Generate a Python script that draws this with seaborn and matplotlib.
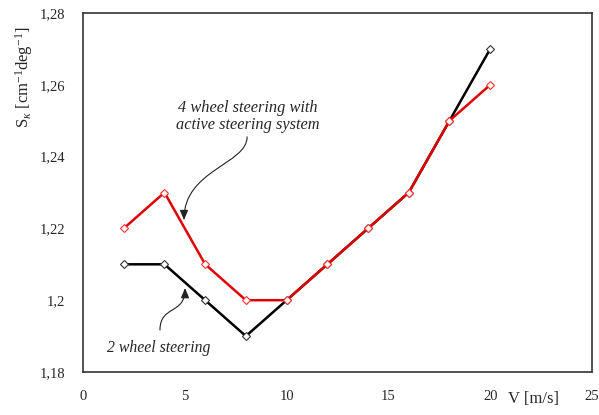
import matplotlib
matplotlib.use("Agg")
import matplotlib.pyplot as plt
from matplotlib.patches import FancyArrowPatch
from matplotlib.path import Path
import seaborn as sns
import pandas as pd

# Measured steering sensitivity vs. speed
speed = [2, 4, 6, 8, 10, 12, 14, 16, 18, 20]
sk_2ws = [1.21, 1.21, 1.20, 1.19, 1.20, 1.21, 1.22, 1.23, 1.25, 1.27]
sk_4ws = [1.22, 1.23, 1.21, 1.20, 1.20, 1.21, 1.22, 1.23, 1.25, 1.26]

x_ticks = [0, 5, 10, 15, 20, 25]
y_ticks = [1.18, 1.20, 1.22, 1.24, 1.26, 1.28]
y_tick_labels = ["1,18", "1,2", "1,22", "1,24", "1,26", "1,28"]

sns.set_style("white")
plt.rcParams["font.family"] = ["Liberation Serif", "DejaVu Serif"]
plt.rcParams["mathtext.fontset"] = "custom"
plt.rcParams["mathtext.rm"] = "Liberation Serif"
plt.rcParams["mathtext.it"] = "Liberation Serif:italic"

df2 = pd.DataFrame({"V": speed, "Sk": sk_2ws})
df4 = pd.DataFrame({"V": speed, "Sk": sk_4ws})

fig = plt.figure(figsize=(5.99, 4.15), dpi=100)
ax = fig.add_axes([0.1386, 0.1036, 0.8497, 0.865])

marker_kw = dict(marker="D", markersize=4.5, markerfacecolor="white",
                 markeredgewidth=0.8, linewidth=1.8)
sns.lineplot(data=df2, x="V", y="Sk", ax=ax, color="black",
             markeredgecolor="#333333", **marker_kw)
sns.lineplot(data=df4, x="V", y="Sk", ax=ax, color="#e00000",
             markeredgecolor="#ff3030", **marker_kw)

ax.set_xlim(0, 25)
ax.set_ylim(1.18, 1.28)
ax.set_xticks(x_ticks)
ax.set_xticklabels([str(t) for t in x_ticks])
ax.set_yticks(y_ticks)
ax.set_yticklabels(y_tick_labels)
ax.tick_params(axis="both", direction="out", length=4, width=0.8,
               color="#999999", labelsize=10.5)
ax.tick_params(axis="y", pad=9)
ax.tick_params(axis="x", pad=9)
for sp in ax.spines.values():
    sp.set_color("#333333")
    sp.set_linewidth(1.2)

ax.set_xlabel("")
ax.set_ylabel(r"S$_{\kappa}$ [cm$^{\mathrm{-1}}$deg$^{\mathrm{-1}}$]",
              fontsize=12)
ax.yaxis.set_label_coords(-0.095, 0.822)
fig.text(0.89, 0.02, "V [m/s]", fontsize=12, ha="center", va="bottom")

# Labels with curved pointers
ax.text(8.10, 1.2512, "4 wheel steering with\nactive steering system",
        fontsize=11.8, style="italic", ha="center", va="center",
        linespacing=1.15)
ax.text(3.71, 1.1867, "2 wheel steering", fontsize=11.3, style="italic",
        ha="center", va="center")

def s_arrow(p0, c1, c2, p1):
    path = Path([p0, c1, c2, p1],
                [Path.MOVETO, Path.CURVE4, Path.CURVE4, Path.CURVE4])
    arr = FancyArrowPatch(path=path, arrowstyle="-|>,head_length=6,head_width=2.5",
                          color="#222222", linewidth=0.8)
    ax.add_patch(arr)

s_arrow((8.06, 1.2455), (8.06, 1.2379), (4.96, 1.2363), (4.96, 1.2223))
s_arrow((3.78, 1.1917), (3.78, 1.1987), (5.01, 1.1959), (5.01, 1.2034))

fig.savefig("out.png", dpi=100)
